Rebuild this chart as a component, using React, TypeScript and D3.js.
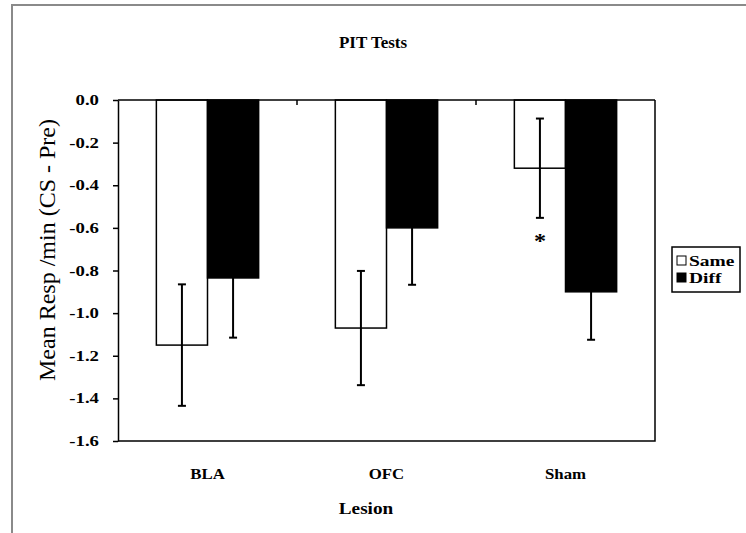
import React, { useRef, useEffect } from "react";
import * as d3 from "d3";

const categories = ["BLA", "OFC", "Sham"];
const seriesNames = ["Same", "Diff"];
const sameMeans = [-1.15, -1.07, -0.32];
const sameErr = [0.285, 0.268, 0.233];
const diffMeans = [-0.835, -0.6, -0.9];
const diffErr = [0.28, 0.267, 0.225];
const yTicks = [0, -0.2, -0.4, -0.6, -0.8, -1.0, -1.2, -1.4, -1.6];
const significant = [false, false, true]; // asterisk under "Same" bar

const App = () => {
  const svgRef = useRef<SVGSVGElement>(null);

  useEffect(() => {
    const svg = d3.select(svgRef.current);
    svg.selectAll("*").remove();

    const W = 746;
    const H = 533;
    const font = "'Liberation Serif', 'Times New Roman', serif";
    const left = 118, right = 655, top = 100, bottom = 441;

    // text that is a little wider than it is tall, like the stretched original
    const label = (
      parent: any, x: number, y: number, txt: string,
      size: number, sx: number, anchor = "middle", weight = "bold"
    ) =>
      parent.append("text")
        .attr("transform", `translate(${x},${y}) scale(${sx},1)`)
        .attr("text-anchor", anchor)
        .attr("font-family", font).attr("font-size", size).attr("font-weight", weight)
        .attr("fill", "#000")
        .text(txt);

    svg.append("rect").attr("width", W).attr("height", H).attr("fill", "#fff");

    // outer frame (only left/top visible)
    svg.append("rect")
      .attr("x", 12).attr("y", 5)
      .attr("width", 760).attr("height", 560)
      .attr("fill", "none").attr("stroke", "#8a8a8a").attr("stroke-width", 2);

    const y = d3.scaleLinear().domain([0, -1.6]).range([top, bottom]);
    const x0 = d3.scaleBand<string>().domain(categories).range([left, right]);
    const x1 = d3.scaleBand<string>().domain(seriesNames)
      .range([0, x0.bandwidth()]).paddingInner(0).paddingOuter(0.75);

    const data = categories.map((c, i) => ({
      cat: c,
      items: [
        { s: "Same", v: sameMeans[i], e: sameErr[i] },
        { s: "Diff", v: diffMeans[i], e: diffErr[i] },
      ],
    }));

    const g = svg.append("g");

    // bars
    const groups = g.selectAll("g.grp").data(data).enter().append("g")
      .attr("transform", (d) => `translate(${x0(d.cat)},0)`);

    groups.selectAll("rect").data((d) => d.items).enter().append("rect")
      .attr("x", (d) => x1(d.s)!)
      .attr("y", y(0))
      .attr("width", x1.bandwidth())
      .attr("height", (d) => y(d.v) - y(0))
      .attr("fill", (d) => (d.s === "Same" ? "#fff" : "#000"))
      .attr("stroke", "#000")
      .attr("stroke-width", 1.5);

    // error bars
    const eb = groups.selectAll("g.eb").data((d) => d.items).enter().append("g");
    const cx = (d: any) => x1(d.s)! + x1.bandwidth() / 2;
    eb.append("line")
      .attr("x1", cx).attr("x2", cx)
      .attr("y1", (d) => y(d.v + d.e)).attr("y2", (d) => y(d.v - d.e))
      .attr("stroke", "#000").attr("stroke-width", 2);
    [1, -1].forEach((sgn) => {
      eb.append("line")
        .attr("x1", (d) => cx(d) - 4).attr("x2", (d) => cx(d) + 4)
        .attr("y1", (d) => y(d.v + sgn * d.e)).attr("y2", (d) => y(d.v + sgn * d.e))
        .attr("stroke", "#000").attr("stroke-width", 2);
    });

    // significance
    data.forEach((d, i) => {
      if (!significant[i]) return;
      const it = d.items[0];
      label(g, x0(d.cat)! + cx(it), y(it.v - it.e) + 30, "*", 22, 1.1);
    });

    // plot border right/bottom
    g.append("path")
      .attr("d", `M${left},${bottom}H${right}V${top}`)
      .attr("fill", "none").attr("stroke", "#000").attr("stroke-width", 1.5);

    // top category axis at 0
    g.append("line")
      .attr("x1", left).attr("x2", right).attr("y1", y(0)).attr("y2", y(0))
      .attr("stroke", "#000").attr("stroke-width", 1.5);
    categories.slice(1).forEach((c) => {
      g.append("line")
        .attr("x1", x0(c)!).attr("x2", x0(c)!)
        .attr("y1", y(0)).attr("y2", y(0) + 5)
        .attr("stroke", "#000").attr("stroke-width", 1.5);
    });

    // y axis
    const yAxis = g.append("g")
      .attr("transform", `translate(${left},0)`)
      .call(d3.axisLeft(y).tickValues(yTicks).tickFormat(() => "").tickSize(5).tickSizeOuter(0));
    yAxis.select(".domain").attr("stroke-width", 1.5);
    yAxis.selectAll(".tick line").attr("stroke-width", 1.5);
    yTicks.forEach((t) => {
      label(g, 99, y(t) + 5, d3.format(".1f")(t).replace("−", "-"), 15, 1.25, "end");
    });

    // category labels
    categories.forEach((c) => {
      label(svg, x0(c)! + x0.bandwidth() / 2, 479, c, 15, 1.12);
    });

    // title
    label(svg, 373, 48, "PIT Tests", 17, 1.0);

    // x title
    label(svg, 366, 514, "Lesion", 16, 1.2);

    // y title
    svg.append("text")
      .attr("transform", "translate(55,250) rotate(-90)")
      .attr("text-anchor", "middle")
      .attr("font-family", font).attr("font-size", 24)
      .text("Mean Resp /min (CS - Pre)");

    // legend
    const lg = svg.append("g").attr("transform", "translate(672,247)");
    lg.append("rect").attr("width", 68).attr("height", 45)
      .attr("fill", "#fff").attr("stroke", "#000").attr("stroke-width", 1.5);
    seriesNames.forEach((s, i) => {
      lg.append("rect")
        .attr("x", 5).attr("y", 9 + i * 17)
        .attr("width", 9).attr("height", 9)
        .attr("fill", s === "Same" ? "#fff" : "#000")
        .attr("stroke", "#000").attr("stroke-width", 1);
      label(lg, 17, 19 + i * 17, s, 15, 1.3, "start");
    });
  }, []);

  return (
    <svg
      ref={svgRef}
      width={746}
      height={533}
      style={{ position: "absolute", left: 0, top: 0, display: "block" }}
    />
  );
};

export default App;
